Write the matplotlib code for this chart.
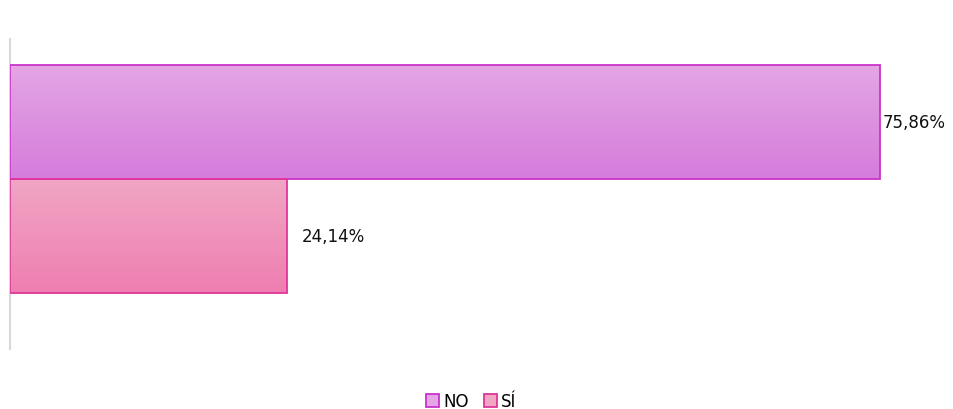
import numpy as np
import matplotlib.pyplot as plt
from matplotlib.colors import LinearSegmentedColormap
from matplotlib.patches import Patch

labels = ["NO", "SÍ"]
values = [75.86, 24.14]
tops = ["#e4a6e4", "#f1a6c4"]
bottoms = ["#d57cdc", "#ee7eb0"]
edges = ["#cc33cc", "#e0359a"]

fig = plt.figure(figsize=(9.54, 4.10), dpi=100)
ax = fig.add_axes([10/954, 60/410, 930/954, 310/410])

ypos = [0.5, -0.5]
pads = [0.25, 1.3]  # label gap from bar end
bars = ax.barh(ypos, values, height=1.0, color="none", edgecolor=edges, linewidth=1.3, zorder=3)

grad = np.linspace(0, 1, 256).reshape(-1, 1)
for b, v, y, t, bt, p in zip(bars, values, ypos, tops, bottoms, pads):
    cmap = LinearSegmentedColormap.from_list("g", [t, bt])
    im = ax.imshow(grad, cmap=cmap, aspect="auto", origin="upper",
                   extent=[0, v, y - 0.5, y + 0.5], zorder=2)
    im.set_clip_path(b)
    ax.text(v + p, y, f"{v:.2f}%".replace(".", ","), va="center", ha="left",
            fontsize=12, color="#111111")

ax.set_xlim(0, 81.1)
ax.set_ylim(-1.491, 1.228)
for s in ["top", "right", "bottom"]:
    ax.spines[s].set_visible(False)
ax.spines["left"].set_color("#d9d9d9")
ax.spines["left"].set_linewidth(1.5)
ax.set_xticks([])
ax.set_yticks([])

handles = [Patch(facecolor=t, edgecolor=e, linewidth=1.3) for t, e in zip(tops, edges)]
fig.legend(handles, labels, loc="lower center", bbox_to_anchor=(0.494, -0.04), ncol=2,
           frameon=False, fontsize=12, handlelength=0.8, handleheight=0.8,
           handletextpad=0.25, columnspacing=0.9)

fig.savefig("out.png", dpi=100)
